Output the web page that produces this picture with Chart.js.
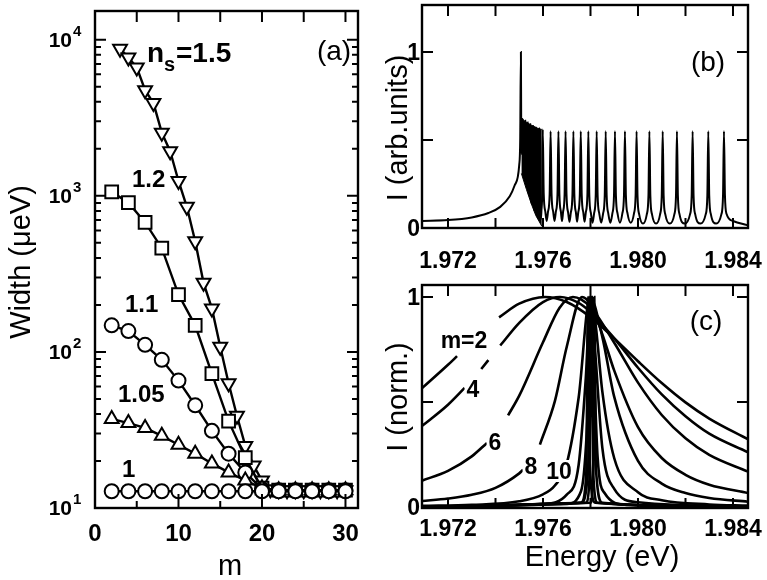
<!DOCTYPE html>
<html>
<head>
<meta charset="utf-8">
<script src="https://cdn.jsdelivr.net/npm/chart.js@4.4.1/dist/chart.umd.min.js"></script>
<style>
  body { margin: 0; background: #fff; }
  #wrap { position: relative; width: 767px; height: 580px; }
  #wrap canvas { position: absolute; left: 0; top: 0; }
</style>
</head>
<body>
<div id="wrap">
  <canvas id="chart-a" width="767" height="580"></canvas>
  <canvas id="chart-b" width="767" height="580"></canvas>
  <canvas id="chart-c" width="767" height="580"></canvas>
</div>
<script>
// ---- panel (a): width vs m ----
const mEven = [2, 4, 6, 8, 10, 12, 14, 16, 18, 20, 22, 24, 26, 28, 30];
const mAll = [3, 4, 5, 6, 7, 8, 9, 10, 11, 12, 13, 14, 15, 16, 17, 18, 19, 20,
              21, 22, 23, 24, 25, 26, 27, 28, 29, 30];
const widthNs100 = [12.8, 12.8, 12.8, 12.8, 12.8, 12.8, 12.8, 12.8, 12.8, 12.8, 12.8, 12.8, 12.8, 12.8, 12.8];
const widthNs105 = [37.2, 35, 32.6, 29, 25.4, 22.3, 19.3, 16.9, 15, 13.4, 13, 13, 13, 13, 13];
const widthNs110 = [148, 136, 111, 89, 65.5, 45.5, 31.2, 22.3, 16.9, 13.2, 13, 13, 13, 13, 13];
const widthNs120 = [1060, 904, 675, 462, 233, 148, 72.6, 36, 21, 13.4, 13, 13, 13, 13, 13];
const widthNs150 = [8770, 7700, 6650, 4750, 3930, 2540, 1930, 1245, 851, 512, 277, 190, 108, 63,
                    39, 25, 18.7, 15, 13.2, 13, 13, 13, 13, 13, 13, 13, 13, 13];
const ticksM = [0, 5, 10, 15, 20, 25, 30];
const labelsM = [0, 10, 20, 30];
const decadesW = [10, 100, 1000, 10000];

// ---- panel (b): full spectrum ----
const tailB = [[1.97090, 0.04], [1.9720, 0.045], [1.9730, 0.06], [1.9737, 0.085], [1.9742, 0.12],
               [1.9746, 0.18], [1.9748, 0.24], [1.9750, 0.36], [1.97504, 0.5]];
const peakE = [1.97507, 1.97515, 1.97525, 1.97535, 1.97546, 1.97557, 1.97569, 1.97583,
               1.97599, 1.97632, 1.97665, 1.97695, 1.97728, 1.97759, 1.97791, 1.97826, 1.97864,
               1.97903, 1.97945, 1.97994, 1.98048, 1.98104, 1.98164, 1.98230, 1.98296, 1.98362];
const peakI = [1.0, 0.62, 0.61, 0.6, 0.59, 0.58, 0.57, 0.565,
               0.56, 0.55, 0.55, 0.55, 0.55, 0.55, 0.55, 0.55, 0.55,
               0.55, 0.55, 0.55, 0.55, 0.55, 0.55, 0.55, 0.55, 0.55];
const valleyI = [0.42, 0.32, 0.25, 0.19, 0.14, 0.1, 0.07, 0.05,
                 0.04, 0.04, 0.04, 0.035, 0.035, 0.035, 0.03, 0.03, 0.03,
                 0.03, 0.03, 0.025, 0.025, 0.025, 0.025, 0.025, 0.025];
const tailEndB = [[1.9840, 0.04], [1.98463, 0.015]];
const blockTop = [[1.97508, 0.63], [1.9752, 0.61], [1.9755, 0.585], [1.9758, 0.565], [1.97595, 0.56]];
const blockBottom = [[1.97509, 0.31], [1.9753, 0.22], [1.9755, 0.14], [1.9757, 0.07], [1.97595, 0.01]];

// ---- panel (c): normalised spectra (null = break in the line) ----
const curveM2 = [[1.97090, 0.565], [1.9720, 0.677], [1.97238, 0.718], [1.9732, null], [1.97415, 0.903],
                 [1.9750, 0.968], [1.97608, 1.0], [1.9770, 0.976], [1.9780, 0.904], [1.9790, 0.803],
                 [1.9800, 0.694], [1.9810, 0.59], [1.9820, 0.498], [1.9830, 0.421], [1.98464, 0.322]];
const curveM4 = [[1.97090, 0.385], [1.9720, 0.487], [1.9727, 0.567], [1.97305, null], [1.9734, 0.657],
                 [1.9737, 0.699], [1.97395, null], [1.9742, 0.769], [1.9750, 0.877],
                 [1.9760, 0.976], [1.97672, 1.0], [1.9775, 0.972], [1.9780, 0.928], [1.9790, 0.803],
                 [1.9800, 0.663], [1.9810, 0.536], [1.9820, 0.432], [1.9830, 0.349], [1.98464, 0.26]];
const curveM6 = [[1.97090, 0.125], [1.9720, 0.172], [1.9730, 0.241], [1.97364, 0.305], [1.9741, null],
                 [1.97453, 0.436], [1.9750, 0.53],
                 [1.9760, 0.784], [1.9767, 0.949], [1.97726, 1.0], [1.9780, 0.952], [1.9790, 0.782],
                 [1.9800, 0.592], [1.9810, 0.438], [1.9820, 0.327], [1.9830, 0.248], [1.98464, 0.168]];
const curveM8 = [[1.97090, 0.028], [1.9720, 0.04], [1.9730, 0.058], [1.9740, 0.091], [1.9750, 0.16],
                 [1.97516, 0.177], [1.9755, null], [1.97587, 0.297], [1.9765, 0.504], [1.9770, 0.763],
                 [1.97764, 1.0], [1.9780, 0.963], [1.9785, 0.822], [1.9790, 0.649], [1.9800, 0.38],
                 [1.9810, 0.233], [1.9820, 0.153], [1.9830, 0.106], [1.98464, 0.066]];
const curveM10 = [[1.97090, 0.005], [1.9730, 0.01], [1.9750, 0.027], [1.9760, 0.06], [1.9765, 0.102],
                  [1.9770, 0.207], [1.9775, 0.52], [1.97798, 1.0], [1.9785, 0.809], [1.9790, 0.524],
                  [1.9800, 0.219], [1.9810, 0.111], [1.9820, 0.066], [1.9830, 0.043], [1.98464, 0.025]];
const curveM12 = [[1.97090, 0.002], [1.9760, 0.015], [1.9770, 0.059], [1.9775, 0.2], [1.9778, 0.61],
                  [1.97800, 1.0], [1.9782, 0.883], [1.9785, 0.548], [1.9790, 0.232], [1.9800, 0.07],
                  [1.9810, 0.032], [1.9830, 0.012], [1.98464, 0.007]];
const curveM14 = [[1.97090, 0], [1.9770, 0.014], [1.9776, 0.075], [1.9779, 0.5], [1.97802, 1.0],
                  [1.9782, 0.735], [1.9785, 0.28], [1.9790, 0.086], [1.9800, 0.022], [1.98464, 0.003]];
const curveM16 = [[1.97090, 0], [1.9776, 0.02], [1.9779, 0.18], [1.97803, 1.0], [1.9781, 0.82],
                  [1.9783, 0.236], [1.9786, 0.065], [1.9795, 0.01], [1.98464, 0]];
const curveM18 = [[1.97090, 0], [1.9778, 0.02], [1.97795, 0.12], [1.97805, 1.0], [1.97812, 0.15],
                  [1.9783, 0.02], [1.98464, 0]];
const curveM20 = [[1.97090, 0], [1.9776, 0.02], [1.97782, 0.15], [1.97790, 1.0], [1.97797, 0.2],
                  [1.9782, 0.02], [1.98464, 0]];
const curveM22 = [[1.97090, 0], [1.9780, 0.02], [1.97810, 0.15], [1.97816, 1.0], [1.97822, 0.2],
                  [1.9785, 0.02], [1.98464, 0]];
const ticksE = [1.972, 1.974, 1.976, 1.978, 1.980, 1.982, 1.984];
const labelsE = ['1.972', '1.976', '1.980', '1.984'];
const ticksI = [0, 0.5, 1];

const FONT = '"Liberation Sans", Arial, Helvetica, sans-serif';

function toXY(xs, ys) {
    return xs.map((x, i) => ({ x: x, y: ys[i] }));
}
function pairs(list) {
    return list.map(p => ({ x: p[0], y: p[1] }));
}

function text(ctx, str, x, y, size, bold, align, rotate) {
    ctx.save();
    ctx.font = (bold ? 'bold ' : '') + size + 'px ' + FONT;
    ctx.fillStyle = '#000';
    ctx.textAlign = align || 'center';
    ctx.textBaseline = 'alphabetic';
    if (rotate) {
        ctx.translate(x, y);
        ctx.rotate(-Math.PI / 2);
        ctx.textBaseline = 'middle';
        ctx.fillText(str, 0, 0);
    } else {
        ctx.fillText(str, x, y);
    }
    ctx.restore();
}

// box, inward ticks on all four sides
function drawBox(chart, xTicks, yTicks) {
    const ctx = chart.ctx;
    const a = chart.chartArea;
    const sx = chart.scales.x, sy = chart.scales.y;
    ctx.save();
    ctx.strokeStyle = '#000';
    ctx.lineWidth = 2;
    ctx.beginPath();
    xTicks.forEach(t => {
        const px = sx.getPixelForValue(t.v);
        ctx.moveTo(px, a.bottom); ctx.lineTo(px, a.bottom - t.bottom);
        ctx.moveTo(px, a.top); ctx.lineTo(px, a.top + t.top);
    });
    yTicks.forEach(t => {
        const py = sy.getPixelForValue(t.v);
        ctx.moveTo(a.left, py); ctx.lineTo(a.left + t.len, py);
        ctx.moveTo(a.right, py); ctx.lineTo(a.right - t.len, py);
    });
    ctx.stroke();
    ctx.lineWidth = 2.4;
    ctx.strokeRect(a.left, a.top, a.right - a.left, a.bottom - a.top);
    ctx.restore();
}

// ---------------- chart (a) ----------------
const panelA = {
    id: 'panelA',
    afterDatasetsDraw(chart) {
        const ctx = chart.ctx;
        const sx = chart.scales.x, sy = chart.scales.y;
        const yTicks = [];
        decadesW.forEach(d => {
            yTicks.push({ v: d, len: 11 });
            if (d < 10000) {
                for (let k = 2; k <= 9; k++) yTicks.push({ v: d * k, len: 6 });
            }
        });
        drawBox(chart,
            ticksM.map(v => ({ v: v, bottom: v % 10 === 0 ? 14 : 7, top: 11 })),
            yTicks);
        labelsM.forEach(v => text(ctx, String(v), sx.getPixelForValue(v), 541, 24, true));
        decadesW.forEach(d => {
            const py = sy.getPixelForValue(d);
            text(ctx, '10', 72, py + 7, 21, true, 'right');
            text(ctx, String(Math.round(Math.log10(d))), 73, py - 4, 15, true, 'left');
        });
        text(ctx, 'Width (\u03bceV)', 22, 262, 29, false, 'center', true);
        text(ctx, 'm', 230, 575, 29, false);
        text(ctx, '(a)', 334, 60, 28, false);
        // series labels
        text(ctx, 'n', 147, 62, 28, true, 'left');
        text(ctx, 's', 164, 71, 20, true, 'left');
        text(ctx, '=1.5', 176, 62, 28, true, 'left');
        text(ctx, '1.2', 132, 187, 24, true, 'left');
        text(ctx, '1.1', 125, 312, 24, true, 'left');
        text(ctx, '1.05', 118, 402, 24, true, 'left');
        text(ctx, '1', 122, 477, 24, true, 'left');
    }
};

function seriesA(values, ms, style, radius, rotation) {
    return {
        data: toXY(ms, values),
        borderColor: '#000',
        borderWidth: 2.4,
        pointStyle: style,
        pointRadius: radius,
        pointRotation: rotation || 0,
        pointBorderWidth: 2,
        pointBorderColor: '#000',
        pointBackgroundColor: '#fff',
        tension: 0
    };
}

new Chart(document.getElementById('chart-a'), {
    type: 'line',
    data: {
        datasets: [
            seriesA(widthNs100, mEven, 'circle', 7),
            seriesA(widthNs105, mEven, 'triangle', 8),
            seriesA(widthNs110, mEven, 'circle', 7),
            seriesA(widthNs120, mEven, 'rect', 9),
            seriesA(widthNs150, mAll, 'triangle', 8, 180)
        ]
    },
    options: {
        responsive: false,
        animation: false,
        layout: { padding: { left: 95, right: 409, top: 5, bottom: 72 } },
        scales: {
            x: { type: 'linear', min: 0, max: 31.5, display: false },
            y: { type: 'logarithmic', min: 10, max: 15280, display: false }
        },
        plugins: { legend: { display: false }, tooltip: { enabled: false } }
    },
    plugins: [panelA]
});

// ---------------- chart (b) ----------------
// each peak: valley -> two shoulder points -> top -> two shoulder points -> valley
function buildSpectrum() {
    const pts = pairs(tailB);
    const n = peakE.length;
    for (let i = 0; i < n; i++) {
        const c = peakE[i], h = peakI[i];
        if (i > 0) {
            const g = c - peakE[i - 1], v = valleyI[i - 1];
            pts.push({ x: c - Math.min(0.00011, g * 0.35), y: v + (h - v) * 0.1 });
            pts.push({ x: c - Math.min(0.00004, g * 0.15), y: v + (h - v) * 0.3 });
        }
        pts.push({ x: c, y: h });
        if (i < n - 1) {
            const g = peakE[i + 1] - c, v = valleyI[i];
            pts.push({ x: c + Math.min(0.00004, g * 0.15), y: v + (h - v) * 0.3 });
            pts.push({ x: c + Math.min(0.00011, g * 0.35), y: v + (h - v) * 0.1 });
            pts.push({ x: c + g / 2, y: v });
        } else {
            pts.push({ x: c + 0.00004, y: 0.19 });
            pts.push({ x: c + 0.00011, y: 0.08 });
        }
    }
    return pts.concat(pairs(tailEndB));
}

const panelB = {
    id: 'panelB',
    afterDatasetsDraw(chart) {
        const ctx = chart.ctx;
        const sx = chart.scales.x, sy = chart.scales.y;
        drawBox(chart,
            ticksE.map(v => ({ v: v, bottom: 10, top: 11 })),
            ticksI.map(v => ({ v: v, len: 11 })));
        labelsE.forEach(s => text(ctx, s, sx.getPixelForValue(parseFloat(s)), 268, 23, true));
        text(ctx, '0', 420, sy.getPixelForValue(0) + 8, 23, true, 'right');
        text(ctx, '1', 420, sy.getPixelForValue(1) + 8, 23, true, 'right');
        text(ctx, 'I (arb.units)', 399, 128, 29, false, 'center', true);
        text(ctx, '(b)', 708, 71, 28, false);
    }
};

new Chart(document.getElementById('chart-b'), {
    type: 'line',
    data: {
        datasets: [
            {
                data: buildSpectrum(),
                borderColor: '#000',
                borderWidth: 2,
                pointRadius: 0,
                cubicInterpolationMode: 'monotone'
            },
            {
                data: pairs(blockTop),
                borderColor: '#000',
                borderWidth: 1,
                backgroundColor: '#000',
                pointRadius: 0,
                fill: '+1'
            },
            {
                data: pairs(blockBottom),
                borderColor: '#000',
                borderWidth: 1,
                pointRadius: 0,
                fill: false
            }
        ]
    },
    options: {
        responsive: false,
        animation: false,
        layout: { padding: { left: 422, right: 19, top: 5, bottom: 352 } },
        scales: {
            x: { type: 'linear', min: 1.970905, max: 1.984632, display: false },
            y: { type: 'linear', min: 0, max: 1.267, display: false }
        },
        plugins: { legend: { display: false }, tooltip: { enabled: false } }
    },
    plugins: [panelB]
});

// ---------------- chart (c) ----------------
const panelC = {
    id: 'panelC',
    afterDatasetsDraw(chart) {
        const ctx = chart.ctx;
        const sx = chart.scales.x, sy = chart.scales.y;
        // curve labels sit on white patches that break the lines
        const labels = [['m=2', 464, 348], ['4', 473, 397], ['6', 495, 450], ['8', 531, 474], ['10', 559, 479]];
        ctx.save();
        ctx.font = 'bold 23px ' + FONT;
        labels.forEach(l => {
            const w = ctx.measureText(l[0]).width;
            ctx.fillStyle = '#fff';
            ctx.fillRect(l[1] - w / 2 - 2, l[2] - 19, w + 4, 22);
        });
        ctx.restore();
        labels.forEach(l => text(ctx, l[0], l[1], l[2], 23, true));
        drawBox(chart,
            ticksE.map(v => ({ v: v, bottom: 10, top: 11 })),
            ticksI.map(v => ({ v: v, len: 11 })));
        labelsE.forEach(s => text(ctx, s, sx.getPixelForValue(parseFloat(s)), 536, 23, true));
        text(ctx, '0', 420, sy.getPixelForValue(0) + 8, 23, true, 'right');
        text(ctx, '1', 420, sy.getPixelForValue(1) + 8, 23, true, 'right');
        text(ctx, 'I (norm.)', 399, 397, 29, false, 'center', true);
        text(ctx, 'Energy (eV)', 602, 566, 29, false);
        text(ctx, '(c)', 706, 330, 28, false);
    }
};

function curveC(list) {
    return {
        data: pairs(list),
        borderColor: '#000',
        borderWidth: 2.6,
        pointRadius: 0,
        spanGaps: false,
        cubicInterpolationMode: 'monotone'
    };
}

new Chart(document.getElementById('chart-c'), {
    type: 'line',
    data: {
        datasets: [curveM2, curveM4, curveM6, curveM8, curveM10, curveM12, curveM14, curveM16,
                   curveM18, curveM20, curveM22].map(curveC)
    },
    options: {
        responsive: false,
        animation: false,
        layout: { padding: { left: 422, right: 19, top: 285, bottom: 72 } },
        scales: {
            x: { type: 'linear', min: 1.970905, max: 1.984632, display: false },
            y: { type: 'linear', min: -0.005, max: 1.057, display: false }
        },
        plugins: { legend: { display: false }, tooltip: { enabled: false } }
    },
    plugins: [panelC]
});
</script>
</body>
</html>
